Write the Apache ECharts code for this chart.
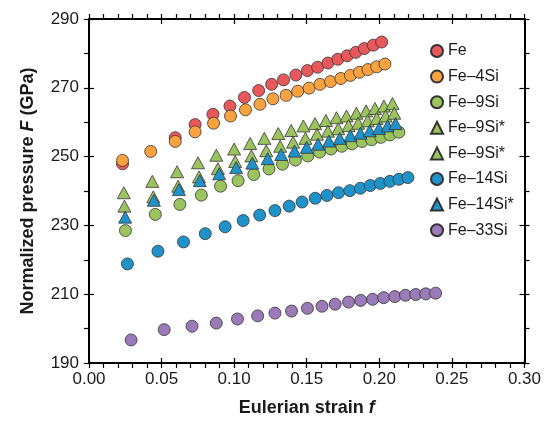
<!DOCTYPE html>
<html>
<head>
<meta charset="utf-8">
<script src="https://cdn.jsdelivr.net/npm/echarts@6/dist/echarts.min.js"></script>
<style>html,body{margin:0;padding:0;background:#fff;}#c{width:544px;height:422px;}</style>
</head>
<body>
<div id="c"></div>
<script>
// ---- data (Eulerian strain f, normalized pressure F in GPa) ----
const seriesNames = ['Fe', 'Fe–4Si', 'Fe–9Si', 'Fe–9Si*#1', 'Fe–9Si*#2', 'Fe–14Si', 'Fe–14Si*', 'Fe–33Si'];
const xTicks = [0.00, 0.05, 0.10, 0.15, 0.20, 0.25, 0.30];
const yTicks = [190, 210, 230, 250, 270, 290];

const fe_f = [0.0231,0.0594,0.0731,0.0854,0.0971,0.1071,0.1169,0.1258,0.1340,0.1425,0.1505,0.1575,0.1646,0.1714,0.1779,0.1838,0.1897,0.1959,0.2016];
const fe_F = [247.9,255.5,259.3,262.3,264.7,267.2,269.2,271.0,272.3,273.7,275.0,276.0,277.2,278.3,279.3,280.3,281.4,282.4,283.3];

const fe4_f = [0.0231,0.0425,0.0594,0.0731,0.0858,0.0975,0.1078,0.1178,0.1267,0.1358,0.1438,0.1516,0.1591,0.1664,0.1735,0.1801,0.1863,0.1922,0.1982,0.2039];
const fe4_F = [248.9,251.5,254.4,257.2,259.7,261.8,263.6,265.2,266.8,267.8,269.0,269.9,271.0,271.8,272.7,273.6,274.5,275.3,276.1,276.9];

const fe9_f = [0.0251,0.0457,0.0626,0.0774,0.0906,0.1027,0.1135,0.1240,0.1333,0.1422,0.1507,0.1589,0.1667,0.1742,0.1813,0.1881,0.1947,0.2011,0.2073,0.2135];
const fe9_F = [228.5,233.2,236.1,238.8,241.4,243.0,244.8,246.4,247.8,249.0,250.2,251.3,252.2,253.0,253.7,254.4,254.9,255.6,256.3,257.1];

const fe9a_f = [0.0240,0.0436,0.0607,0.0751,0.0877,0.1000,0.1110,0.1208,0.1304,0.1393,0.1477,0.1557,0.1632,0.1705,0.1774,0.1842,0.1909,0.1970,0.2032,0.2091];
const fe9a_F = [239.5,242.8,245.6,248.2,250.4,252.2,253.8,255.3,256.7,257.6,258.9,259.6,260.5,261.3,261.8,262.6,263.3,264.0,264.7,265.4];

const fe9b_f = [0.0244,0.0443,0.0614,0.0758,0.0888,0.1007,0.1119,0.1221,0.1317,0.1406,0.1491,0.1571,0.1646,0.1717,0.1788,0.1854,0.1920,0.1982,0.2043,0.2103];
const fe9b_F = [235.6,238.3,241.4,244.1,246.5,248.6,250.2,251.7,253.0,254.2,255.3,256.5,257.4,258.1,259.0,259.7,260.4,261.1,261.8,262.6];

const fe14_f = [0.0265,0.0475,0.0651,0.0801,0.0938,0.1062,0.1176,0.1281,0.1379,0.1468,0.1559,0.1639,0.1719,0.1797,0.1870,0.1938,0.2007,0.2073,0.2135,0.2197];
const fe14_F = [218.8,222.5,225.2,227.6,229.6,231.4,233.0,234.3,235.6,236.8,237.9,238.7,239.5,240.1,240.8,241.6,242.2,242.8,243.4,243.9];

const fe14s_f = [0.0249,0.0447,0.0619,0.0763,0.0897,0.1014,0.1125,0.1231,0.1324,0.1416,0.1500,0.1578,0.1653,0.1728,0.1801,0.1870,0.1934,0.1998,0.2057,0.2112];
const fe14s_F = [232.4,237.3,240.4,243.0,245.0,246.8,248.1,249.4,250.6,251.6,252.7,253.6,254.5,255.3,256.1,256.8,257.5,258.2,258.9,259.6];

const fe33_f = [0.0290,0.0518,0.0710,0.0877,0.1023,0.1162,0.1281,0.1395,0.1505,0.1605,0.1696,0.1788,0.1872,0.1954,0.2030,0.2107,0.2180,0.2251,0.2320,0.2388];
const fe33_F = [196.7,199.7,200.7,201.6,202.8,203.7,204.5,205.1,205.9,206.5,207.1,207.7,208.2,208.5,209.0,209.3,209.7,209.9,210.1,210.3];

// ---- styling ----
const FONT = '"Liberation Sans", Arial, Helvetica, sans-serif';
const colors = ['#E8585A', '#F9A23E', '#9CC45E', '#9CC45E', '#9CC45E', '#1F93C9', '#1F93C9', '#9A7AB7'];
const symbols = ['circle', 'circle', 'circle', 'triangle', 'triangle', 'circle', 'triangle', 'circle'];
const xs = [fe_f, fe4_f, fe9_f, fe9a_f, fe9b_f, fe14_f, fe14s_f, fe33_f];
const ys = [fe_F, fe4_F, fe9_F, fe9a_F, fe9b_F, fe14_F, fe14s_F, fe33_F];

const zip = (a, b) => a.map((v, i) => [v, b[i]]);

const series = seriesNames.map((name, k) => ({
  name: name,
  type: 'scatter',
  xAxisIndex: 0,
  yAxisIndex: 0,
  symbol: symbols[k],
  symbolSize: symbols[k] === 'triangle' ? [13, 12] : 12,
  itemStyle: { color: colors[k], borderColor: '#333', borderWidth: 0.8, opacity: 1 },
  emphasis: { disabled: true },
  data: zip(xs[k], ys[k]),
  z: 2 + k
}));

const xRange = { min: xTicks[0], max: xTicks[xTicks.length - 1], interval: 0.05 };
const yRange = { min: yTicks[0], max: yTicks[yTicks.length - 1], interval: 20 };
const lineBlack = { color: '#000', width: 2 };
const tickStyle = { color: '#000', width: 1.2 };

function xAxis(pos, inside, main) {
  return Object.assign({
    type: 'value', position: pos, splitLine: { show: false },
    axisLine: { show: !inside, onZero: false, lineStyle: lineBlack },
    axisTick: { show: true, inside: inside, length: 5, lineStyle: tickStyle },
    minorTick: { show: !inside, splitNumber: 5, length: 5, lineStyle: tickStyle },
    axisLabel: main ? { show: true, margin: 8, fontSize: 17, color: '#1a1a1a', fontFamily: FONT,
      formatter: v => v.toFixed(2) } : { show: false }
  }, xRange, main ? {
    name: '{b|Eulerian strain }{i|f}', nameLocation: 'middle', nameGap: 36,
    nameTextStyle: { rich: {
      b: { fontSize: 18, fontWeight: 'bold', fontFamily: FONT, color: '#1a1a1a' },
      i: { fontSize: 18, fontWeight: 'bold', fontStyle: 'italic', fontFamily: FONT, color: '#1a1a1a' } } }
  } : {});
}
function yAxis(pos, inside, main) {
  return Object.assign({
    type: 'value', position: pos, splitLine: { show: false },
    axisLine: { show: !inside, onZero: false, lineStyle: lineBlack },
    axisTick: { show: true, inside: inside, length: 5, lineStyle: tickStyle },
    minorTick: { show: !inside, splitNumber: 2, length: 5, lineStyle: tickStyle },
    axisLabel: main ? { show: true, margin: 10, fontSize: 17, color: '#1a1a1a', fontFamily: FONT } : { show: false }
  }, yRange, main ? {
    name: '{b|Normalized pressure }{i|F}{b| (GPa)}', nameLocation: 'middle', nameGap: 52, nameRotate: 90,
    nameTextStyle: { rich: {
      b: { fontSize: 18, fontWeight: 'bold', fontFamily: FONT, color: '#1a1a1a' },
      i: { fontSize: 18, fontWeight: 'bold', fontStyle: 'italic', fontFamily: FONT, color: '#1a1a1a' } } }
  } : {});
}

const option = {
  animation: false,
  backgroundColor: '#fff',
  grid: { left: 89, right: 17, top: 19, bottom: 56, containLabel: false },
  xAxis: [xAxis('bottom', false, true), xAxis('bottom', true, false), xAxis('top', false, false), xAxis('top', true, false)],
  yAxis: [yAxis('left', false, true), yAxis('left', true, false), yAxis('right', false, false), yAxis('right', true, false)],
  legend: {
    orient: 'vertical', left: 430, top: 42, padding: 0,
    itemWidth: 12, itemHeight: 12, itemGap: 7.6,
    textStyle: { fontSize: 16, fontFamily: FONT, color: '#1a1a1a', lineHeight: 18 },
    formatter: name => name.split('#')[0],
    data: seriesNames,
    selectedMode: false
  },
  series: series
};

echarts.init(document.getElementById('c'), null, { renderer: 'canvas' }).setOption(option);
</script>
</body>
</html>
